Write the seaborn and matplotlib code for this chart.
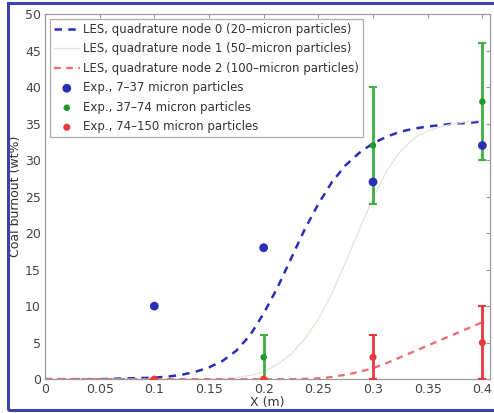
import matplotlib
matplotlib.use("Agg")
import matplotlib.pyplot as plt
import matplotlib.patches as mpatches
import pandas as pd
import seaborn as sns

# Simulated burnout along the axis for the three quadrature nodes
x_les = [0.0, 0.05, 0.1, 0.1125, 0.125, 0.1375, 0.15, 0.1625, 0.175, 0.1875,
         0.2, 0.2125, 0.225, 0.2375, 0.25, 0.2625, 0.275, 0.2875, 0.3, 0.3125,
         0.325, 0.3375, 0.35, 0.3625, 0.375, 0.3875, 0.4]
node0 = [0.0, 0.0, 0.2, 0.35, 0.6, 1.0, 1.6, 2.5, 3.9, 6.0,
         9.0, 12.5, 16.5, 20.5, 24.0, 27.0, 29.3, 31.0, 32.3, 33.2,
         33.9, 34.3, 34.6, 34.8, 35.0, 35.1, 35.3]
node1 = [0.0, 0.0, 0.0, 0.0, 0.0, 0.0, 0.0, 0.1, 0.2, 0.5,
         1.0, 2.0, 3.4, 5.5, 8.2, 11.8, 16.0, 20.5, 24.8, 28.5,
         31.2, 33.0, 34.0, 34.6, 35.0, 35.3, 35.5]
node2 = [0.0, 0.0, 0.0, 0.0, 0.0, 0.0, 0.0, 0.0, 0.0, 0.0,
         0.0, 0.0, 0.0, 0.05, 0.1, 0.3, 0.6, 1.0, 1.5, 2.2,
         3.0, 3.8, 4.6, 5.4, 6.2, 7.0, 7.8]

# Measured burnout by particle size class
x_exp = [0.1, 0.2, 0.3, 0.4]
exp_small = [10, 18, 27, 32]
exp_mid = [0, 3, 32, 38]
exp_mid_err = [0, 3, 8, 8]
exp_large = [0, 0, 3, 5]
exp_large_err = [0, 0, 3, 5]

x_ticks = [0, 0.05, 0.1, 0.15, 0.2, 0.25, 0.3, 0.35, 0.4]
x_tick_labels = ["0", "0.05", "0.1", "0.15", "0.2", "0.25", "0.3", "0.35", "0.4"]
y_ticks = [0, 5, 10, 15, 20, 25, 30, 35, 40, 45, 50]

labels = [
    "LES, quadrature node 0 (20\u2013micron particles)",
    "LES, quadrature node 1 (50\u2013micron particles)",
    "LES, quadrature node 2 (100\u2013micron particles)",
    "Exp., 7\u201337 micron particles",
    "Exp., 37\u201374 micron particles",
    "Exp., 74\u2013150 micron particles",
]

sns.set_style("white")
plt.rcParams["font.family"] = ["DejaVu Sans"]

fig = plt.figure(figsize=(4.94, 4.13), dpi=100)
ax = fig.add_axes([0.091, 0.082, 0.901, 0.884])

blue = "#2b2fb8"
red = "#e8383d"

les = pd.DataFrame({"x": x_les, "n0": node0, "n1": node1, "n2": node2})
exp = pd.DataFrame({"x": x_exp, "small": exp_small, "mid": exp_mid, "large": exp_large})

sns.lineplot(data=les, x="x", y="n0", ax=ax, color=blue, lw=1.8,
             linestyle=(0, (3, 2.5)), label=labels[0])
sns.lineplot(data=les, x="x", y="n1", ax=ax, color="#e2e2d8", lw=0.9,
             label=labels[1])
sns.lineplot(data=les, x="x", y="n2", ax=ax, color="#ec6a72", lw=1.6,
             linestyle=(0, (3, 2.5)), label=labels[2])

ax.errorbar(x_exp, exp_mid, yerr=exp_mid_err, fmt="none", ecolor="#3cb043",
            elinewidth=2, capsize=3, capthick=1.5, zorder=3)
ax.errorbar(x_exp, exp_large, yerr=exp_large_err, fmt="none", ecolor=red,
            elinewidth=2, capsize=3, capthick=1.5, zorder=3)

sns.scatterplot(data=exp, x="x", y="small", ax=ax, color=blue, s=40,
                edgecolor="none", label=labels[3], zorder=4)
sns.scatterplot(data=exp, x="x", y="mid", ax=ax, color="#1f9a2a", s=22,
                edgecolor="none", label=labels[4], zorder=5)
sns.scatterplot(data=exp, x="x", y="large", ax=ax, color=red, s=26,
                edgecolor="none", label=labels[5], zorder=6)

ax.set_xlim(0, 0.407)
ax.set_ylim(0, 50)
ax.set_xticks(x_ticks)
ax.set_xticklabels(x_tick_labels)
ax.set_yticks(y_ticks)
ax.tick_params(direction="in", length=3, color="#999999", labelsize=9,
               labelcolor="#444444", pad=3, top=True, right=True)
for s in ax.spines.values():
    s.set_color("#9a9a9a")
    s.set_linewidth(0.9)

ax.set_xlabel("X (m)", fontsize=9, color="#333333", labelpad=0)
ax.set_ylabel("Coal burnout (wt%)", fontsize=9, color="#333333", labelpad=2)

leg = ax.legend(loc="upper left", fontsize=8.5, frameon=True, fancybox=False,
                borderaxespad=0.4, handlelength=2.2, handletextpad=0.3,
                labelspacing=0.55, borderpad=0.35)
leg.get_frame().set_edgecolor("#9a9a9a")
leg.get_frame().set_linewidth(0.9)
for t in leg.get_texts():
    t.set_color("#333333")

# Outer blue frame around the figure
frame = mpatches.Rectangle((8 / 494, 3 / 413), 1.2, 1 - 6 / 413,
                           transform=fig.transFigure, fill=False,
                           edgecolor="#3a44b0", linewidth=2.2, clip_on=False)
fig.patches.append(frame)

fig.savefig("out.png", dpi=100)
